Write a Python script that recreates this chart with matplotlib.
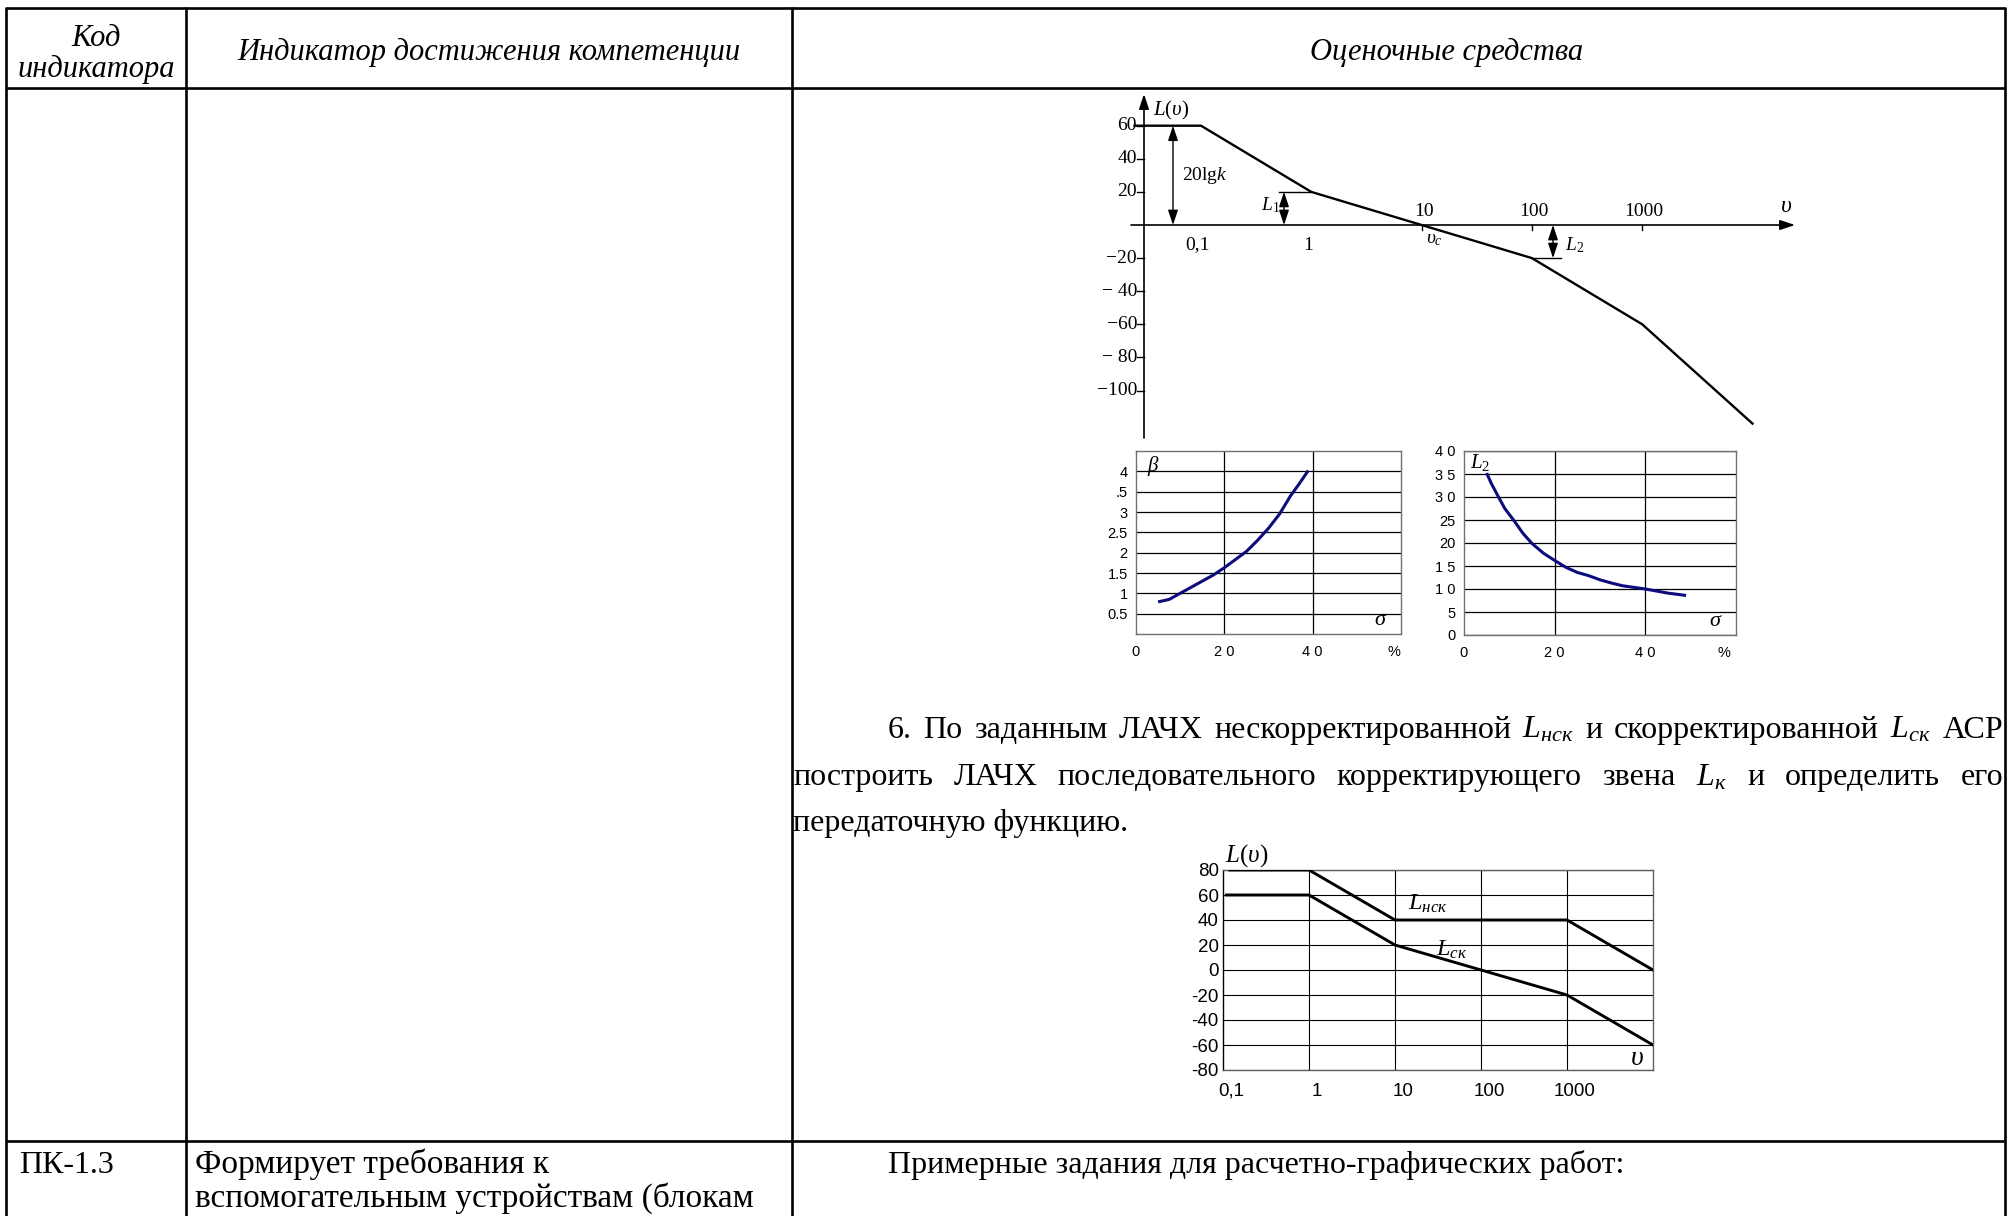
import matplotlib
matplotlib.use("Agg")
import matplotlib.pyplot as plt

plt.rcParams.update({
    "mathtext.fontset": "custom",
    "mathtext.rm": "Liberation Serif",
    "mathtext.it": "Liberation Serif:italic",
    "mathtext.bf": "Liberation Serif:bold",
    "font.family": ["Liberation Serif", "DejaVu Sans"],
})

# ---------------- data ----------------
# asymptotic LAFC L(v) of the open loop
lafc_freq = [0.025, 0.1, 1, 100, 1000, 10000]
lafc_db = [60, 60, 20, -20, -60, -120]
lafc_yticks = [60, 40, 20, -20, -40, -60, -80, -100]
lafc_ylabels = ["60", "40", "20", "\u221220", "\u2212 40", "\u221260", "\u2212 80", "\u2212100"]
lafc_below = {0.1: "0,1", 1: "1"}
lafc_above = {10: "10", 100: "100", 1000: "1000"}

# beta(sigma) nomogram
beta_sigma = [5, 7.5, 10, 12.5, 15, 17.5, 20, 22.5, 25, 27.5, 30, 32.5, 35, 37, 39]
beta_vals = [0.79, 0.85, 1.0, 1.15, 1.3, 1.45, 1.63, 1.83, 2.03, 2.3, 2.6, 2.95, 3.4, 3.7, 4.02]
beta_yticks = [0.5, 1, 1.5, 2, 2.5, 3, 3.5, 4]
beta_ylabels = ["0.5", "1", "1.5", "2", "2.5", "3", ".5", "4"]

# L2(sigma) nomogram
l2_sigma = [5, 6, 7.5, 9, 11, 13, 15, 17.5, 20, 22.5, 25, 27.5, 30, 32.5, 35, 40, 45, 49]
l2_vals = [35.2, 33, 30.2, 27.5, 24.9, 22.1, 19.9, 17.8, 16.2, 14.7, 13.6, 12.9, 12.0,
           11.3, 10.7, 10.0, 9.1, 8.6]
l2_yticks = [0, 5, 10, 15, 20, 25, 30, 35, 40]
l2_ylabels = ["0", "5", "1 0", "1 5", "20", "25", "3 0", "3 5", "4 0"]

sigma_ticks = [0, 20, 40]
sigma_labels = ["0", "2 0", "4 0"]

# uncorrected / corrected LAFC
corr_grid = [0.1, 1, 10, 100, 1000]
corr_xlabels = ["0,1", "1", "10", "100", "1000"]
corr_yticks = [80, 60, 40, 20, 0, -20, -40, -60, -80]
nsk_freq = [0.12, 1, 10, 1000, 10000]
nsk_db = [80, 80, 40, 40, 0]
sk_freq = [0.11, 1, 10, 100, 1000, 10000]
sk_db = [60, 60, 20, 0, -20, -60]

# ---------------- figure / page ----------------
W, H, DPI = 2013, 1216, 100
fig = plt.figure(figsize=(W / DPI, H / DPI), dpi=DPI)
fig.patch.set_facecolor("white")

page = fig.add_axes([0, 0, 1, 1])
page.set_xlim(0, W)
page.set_ylim(H, 0)
page.axis("off")


def px_axes(x0, y0, x1, y1):
    return fig.add_axes([x0 / W, 1 - y1 / H, (x1 - x0) / W, (y1 - y0) / H])


BODY = 23
HEAD = 22
SERIF = "Liberation Serif"
SANS = "Liberation Sans"
NAVY = "#0c0c7c"
LAFC_FS = 14

# table rules
TBL_L, TBL_C1, TBL_C2, TBL_R = 6, 186, 792, 2005
TBL_TOP, TBL_HEAD, TBL_ROW = 7.5, 88, 1141
rule = dict(color="black", lw=1.9, solid_capstyle="butt")
page.plot([TBL_L, TBL_R], [TBL_TOP, TBL_TOP], **rule)
page.plot([TBL_L, TBL_R], [TBL_HEAD, TBL_HEAD], **rule)
page.plot([TBL_L, TBL_R], [TBL_ROW, TBL_ROW], **rule)
for xv in (TBL_L, TBL_C1, TBL_C2, TBL_R):
    page.plot([xv, xv], [TBL_TOP - 1, H], **rule)

# header
hd = dict(ha="center", va="center", style="italic", fontsize=HEAD, family=SERIF)
page.text(96, 38, "Код", **hd)
page.text(96, 69, "индикатора", **hd)
page.text(489, 52, "Индикатор достижения компетенции", **hd)
page.text(1447, 52, "Оценочные средства", **hd)

# next table row
bd = dict(va="baseline", fontsize=BODY, family=SERIF)
page.text(19, 1173, "ПК-1.3", **bd)
page.text(195, 1173, "Формирует требования к", **dict(bd, fontsize=24))
page.text(195, 1207, "вспомогательным устройствам (блокам", **dict(bd, fontsize=24))
page.text(888, 1173, "Примерные задания для расчетно-графических работ:", **bd)

# task 6 paragraph (justified lines)
renderer = fig.canvas.get_renderer()


def justify(words, x0, x1, y):
    items = [page.text(0, y, w, **bd) for w in words]
    widths = [t.get_window_extent(renderer).width for t in items]
    gap = (x1 - x0 - sum(widths)) / (len(items) - 1)
    x = x0
    for t, w in zip(items, widths):
        t.set_x(x)
        x += w + gap


justify(["6.", "По", "заданным", "ЛАЧХ", "нескорректированной", "$L_{нск}$", "и",
         "скорректированной", "$L_{ск}$", "АСР"], 888, 2003, 738)
justify(["построить", "ЛАЧХ", "последовательного", "корректирующего", "звена",
         "$L_{к}$", "и", "определить", "его"], 793, 2003, 785)
page.text(793, 831, "передаточную функцию.", **bd)

# ---------------- chart 1: asymptotic LAFC ----------------
X0_PX, DEC_PX = 1201, 110.3     # pixel of v = 0.1, pixels per decade
Y0_PX, DB_PX = 225, 1.655       # pixel of 0 dB, pixels per dB


def f_at(px):
    return 10 ** ((px - X0_PX) / DEC_PX - 1)


def db_at(py):
    return (Y0_PX - py) / DB_PX


box = (1090, 80, 1805, 450)
ax1 = px_axes(*box)
ax1.set_xscale("log")
ax1.set_xlim(f_at(box[0]), f_at(box[2]))
ax1.set_ylim(db_at(box[3]), db_at(box[1]))
ax1.axis("off")

F_AXIS = f_at(1144)
arrow_kw = dict(arrowstyle="-|>,head_length=0.9,head_width=0.3", color="black",
                lw=1.2, shrinkA=0, shrinkB=0, mutation_scale=10)
ax1.annotate("", xy=(F_AXIS, db_at(94)), xytext=(F_AXIS, db_at(438)), arrowprops=arrow_kw)
ax1.annotate("", xy=(f_at(1795), 0), xytext=(f_at(1131), 0), arrowprops=arrow_kw)

ax1.plot(lafc_freq, lafc_db, color="black", lw=1.7, solid_joinstyle="miter")

tick_left = f_at(1137)
for v, lab in zip(lafc_yticks, lafc_ylabels):
    ax1.plot([tick_left, F_AXIS], [v, v], color="black", lw=1.0)
    ax1.annotate(lab, (F_AXIS, v), xytext=(-7, 0), textcoords="offset pixels",
                 ha="right", va="center", fontsize=LAFC_FS, family=SERIF)

for f in lafc_above:
    ax1.plot([f, f], [0, -3.2], color="black", lw=1.0)
for f, lab in lafc_below.items():
    ax1.annotate(lab, (f, 0), xytext=(-3, -20), textcoords="offset pixels",
                 ha="center", va="center", fontsize=LAFC_FS, family=SERIF)
for f, lab in lafc_above.items():
    ax1.annotate(lab, (f, 0), xytext=(2, 14), textcoords="offset pixels",
                 ha="center", va="center", fontsize=LAFC_FS, family=SERIF)

ax1.annotate("$υ_c$", (10, 0), xytext=(13, -15), textcoords="offset pixels",
             ha="center", va="center", fontsize=LAFC_FS)
ax1.annotate("$υ$", (f_at(1786), 0), xytext=(0, 18), textcoords="offset pixels",
             ha="center", va="center", fontsize=17)
ax1.annotate("$L(υ)$", (F_AXIS, db_at(110)), xytext=(9, 0), textcoords="offset pixels",
             ha="left", va="center", fontsize=15)

dbl = dict(arrowstyle="<|-|>,head_length=0.9,head_width=0.3", color="black",
           lw=1.0, shrinkA=0, shrinkB=0, mutation_scale=10)
# 20 lg k
K_AT = f_at(1173)
ax1.annotate("", xy=(K_AT, 0), xytext=(K_AT, lafc_db[0]), arrowprops=dbl)
ax1.annotate("$\\mathrm{20lg}k$", (K_AT, 30), xytext=(9, 0), textcoords="offset pixels",
             ha="left", va="center", fontsize=LAFC_FS)
# L1 margin
L1_AT = f_at(1284)
ax1.plot([f_at(1279), 1], [20, 20], color="black", lw=1.0)
ax1.annotate("", xy=(L1_AT, 0), xytext=(L1_AT, 20), arrowprops=dbl)
ax1.annotate("$L_1$", (L1_AT, 12), xytext=(-4, 0), textcoords="offset pixels",
             ha="right", va="center", fontsize=LAFC_FS)
# L2 margin
L2_AT = f_at(1553)
ax1.plot([100, f_at(1561)], [-20, -20], color="black", lw=1.0)
ax1.annotate("", xy=(L2_AT, -20), xytext=(L2_AT, 0), arrowprops=dbl)
ax1.annotate("$L_2$", (L2_AT, -12), xytext=(12, 0), textcoords="offset pixels",
             ha="left", va="center", fontsize=LAFC_FS)


# ---------------- nomograms ----------------
def nomogram(ax, xs, ys, ylim, yticks, ylabels, ylab, ylab_at, pct_at):
    ax.set_xlim(0, 60)
    ax.set_ylim(*ylim)
    for v in yticks:
        ax.axhline(v, color="black", lw=0.9, zorder=1)
    for v in sigma_ticks[1:]:
        ax.axvline(v, color="black", lw=0.9, zorder=1)
    ax.plot(xs, ys, color=NAVY, lw=2.2, zorder=3, solid_capstyle="butt")
    for s in ax.spines.values():
        s.set_color("#707070")
        s.set_linewidth(1.0)
    ax.set_xticks(sigma_ticks + [pct_at], sigma_labels + ["%"])
    ax.set_yticks(yticks, ylabels)
    ax.tick_params(length=0, labelsize=10.5, labelfontfamily=SANS, pad=6)
    ax.tick_params(axis="x", pad=8)
    ax.text(ylab_at[0], ylab_at[1], ylab, fontsize=15, ha="center", va="center")
    ax.text(55.5, ylim[0] + 0.075 * (ylim[1] - ylim[0]), "$σ$", fontsize=16,
            ha="center", va="center")


ax2 = px_axes(1136, 451, 1401, 634)
nomogram(ax2, beta_sigma, beta_vals, (0, 4.5), beta_yticks, beta_ylabels,
         "$β$", (4.0, 4.14), 58.5)
ax3 = px_axes(1464, 451, 1736, 635)
nomogram(ax3, l2_sigma, l2_vals, (0, 40), l2_yticks, l2_ylabels,
         "$L_2$", (3.6, 37.4), 57.4)

# ---------------- chart 4: uncorrected / corrected LAFC ----------------
ax4 = px_axes(1223, 870, 1653, 1070)
ax4.set_xscale("log")
ax4.set_xlim(0.1, 10000)
ax4.set_ylim(-80, 80)
for v in corr_yticks:
    ax4.axhline(v, color="black", lw=0.8, zorder=1)
for f in corr_grid[1:]:
    ax4.axvline(f, color="black", lw=0.8, zorder=1)
for s in ax4.spines.values():
    s.set_color("#606060")
    s.set_linewidth(1.0)
ax4.spines["left"].set_color("black")
ax4.plot(nsk_freq, nsk_db, color="black", lw=2.1, zorder=3)
ax4.plot(sk_freq, sk_db, color="black", lw=2.1, zorder=3)
ax4.set_xticks([])
ax4.minorticks_off()
ax4.set_yticks(corr_yticks, [str(v) for v in corr_yticks])
ax4.tick_params(length=0, labelsize=13.5, labelfontfamily=SANS, pad=3)
for f, lab in zip(corr_grid, corr_xlabels):
    ax4.annotate(lab, (f, 0), xycoords=("data", "axes fraction"), xytext=(8, -21),
                 textcoords="offset pixels", ha="center", va="center",
                 fontsize=13.5, family=SANS)
ax4.annotate("$L(υ)$", (0.1, 1), xycoords=("data", "axes fraction"), xytext=(2, 14),
             textcoords="offset pixels", ha="left", va="center", fontsize=18)
ax4.text(24, 53, "$L_{нск}$", fontsize=17.5, ha="center", va="center")
ax4.text(46, 16, "$L_{ск}$", fontsize=17.5, ha="center", va="center")
ax4.text(6500, -71, "$υ$", fontsize=20, ha="center", va="center")

fig.savefig("out.png", dpi=DPI, facecolor="white")
